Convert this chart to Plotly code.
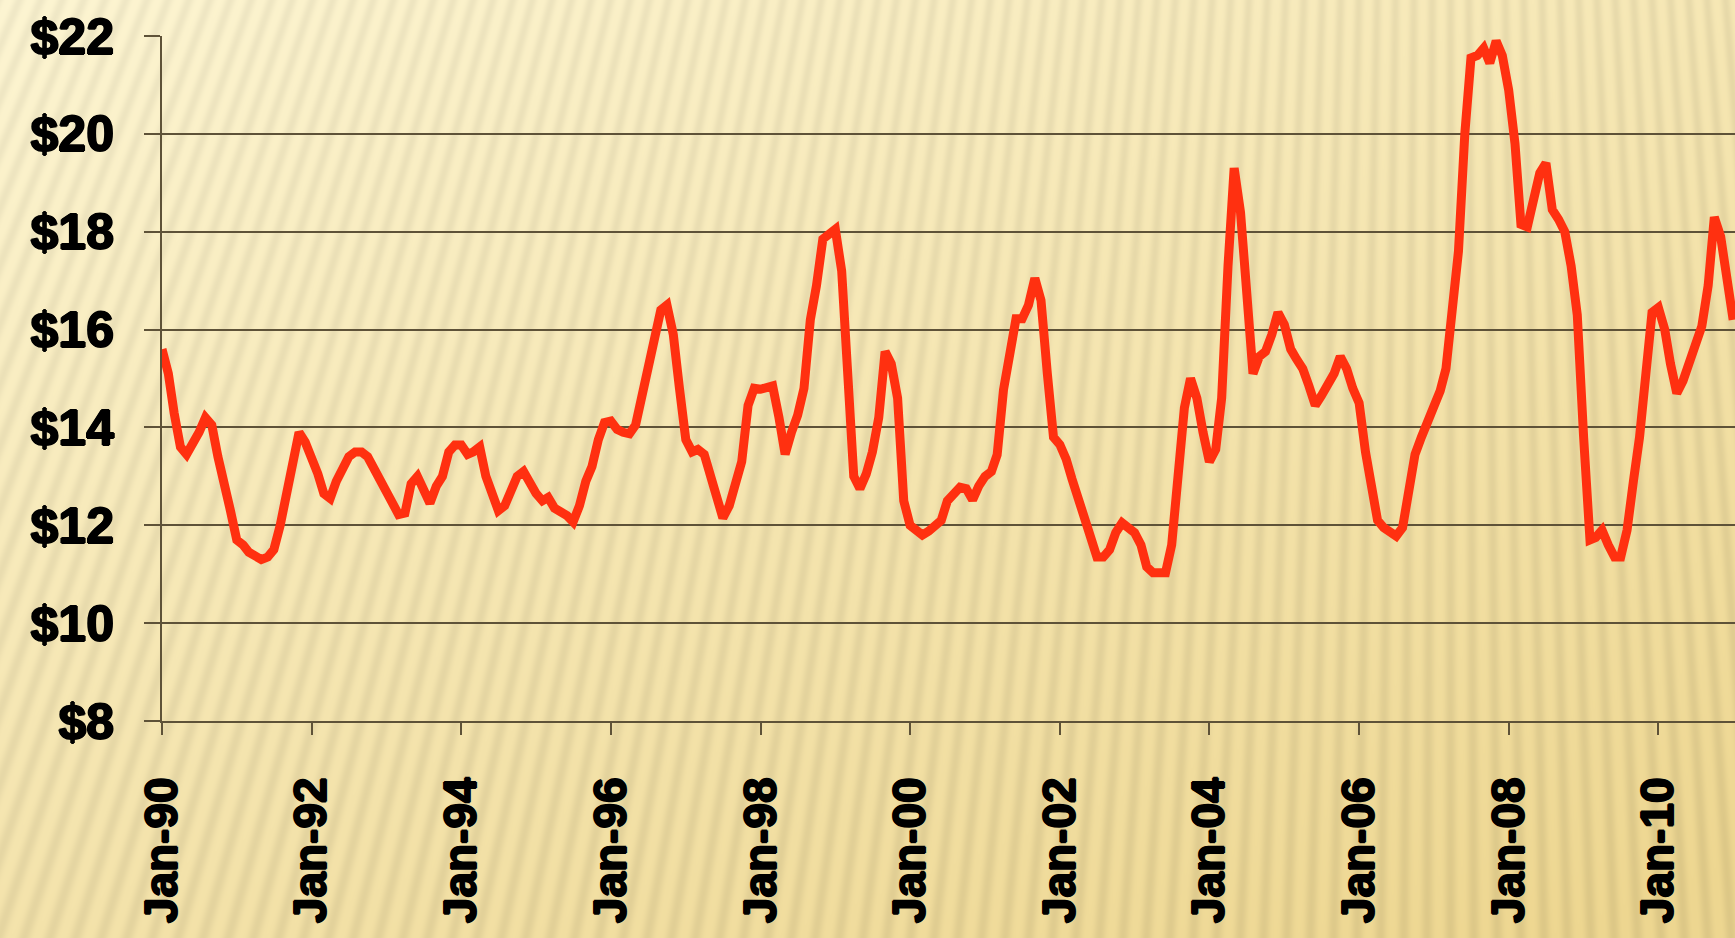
import base64
import struct
import zlib

import numpy as np
import pandas as pd
import plotly.graph_objects as go

# Monthly price from January 1990 (one row per calendar year)
prices = [
    15.6, 15.1, 14.3, 13.6, 13.45, 13.65, 13.9, 14.2, 14.05, 13.4, 12.9, 12.3,     # 1990
    11.7, 11.6, 11.45, 11.35, 11.3, 11.35, 11.5, 12.0, 12.6, 13.2, 13.9, 13.7,     # 1991
    13.4, 13.05, 12.65, 12.55, 12.9, 13.2, 13.4, 13.5, 13.5, 13.4, 13.15, 12.9,    # 1992
    12.65, 12.45, 12.22, 12.25, 12.85, 13.0, 12.75, 12.45, 12.8, 13.0, 13.5, 13.64,  # 1993
    13.64, 13.45, 13.5, 13.6, 13.0, 12.6, 12.3, 12.4, 12.75, 13.0, 13.1, 12.85,    # 1994
    12.65, 12.5, 12.57, 12.35, 12.3, 12.2, 12.07, 12.4, 12.9, 13.2, 13.75, 14.1,   # 1995
    14.13, 13.96, 13.9, 13.87, 14.05, 14.6, 15.3, 15.8, 16.4, 16.5, 15.9, 14.8,    # 1996
    13.75, 13.5, 13.55, 13.45, 13.0, 12.5, 12.15, 12.4, 12.9, 13.3, 14.45, 14.8,   # 1997
    14.78, 14.8, 14.85, 14.2, 13.45, 13.9, 14.25, 14.8, 16.2, 16.9, 17.85, 17.95,  # 1998
    18.05, 17.2, 15.2, 13.0, 12.75, 13.05, 13.5, 14.2, 15.55, 15.3, 14.6, 12.5,    # 1999
    12.0, 11.9, 11.8, 11.88, 11.98, 12.1, 12.5, 12.62, 12.78, 12.75, 12.52, 12.8,  # 2000
    13.0, 13.1, 13.44, 14.77, 15.4, 16.22, 16.22, 16.5, 17.05, 16.6, 15.1, 13.8,   # 2001
    13.65, 13.35, 12.95, 12.58, 12.2, 11.75, 11.35, 11.35, 11.5, 11.85, 12.05, 11.93,  # 2002
    11.85, 11.6, 11.15, 11.03, 11.03, 11.03, 11.6, 13.0, 14.4, 15.0, 14.6, 13.9,   # 2003
    13.3, 13.55, 14.6, 17.3, 19.3, 18.4, 16.8, 15.1, 15.45, 15.55, 15.9, 16.35,    # 2004
    16.1, 15.6, 15.4, 15.2, 14.85, 14.45, 14.65, 14.85, 15.1, 15.45, 15.2, 14.8,   # 2005
    14.5, 13.5, 12.8, 12.1, 11.95, 11.88, 11.78, 11.95, 12.7, 13.45, 13.8, 14.1,   # 2006
    14.4, 14.75, 15.2, 16.3, 17.6, 20.0, 21.55, 21.6, 21.75, 21.45, 21.9, 21.6,    # 2007
    20.9, 19.8, 18.15, 18.1, 18.6, 19.2, 19.4, 18.45, 18.25, 18.0, 17.3, 16.3,     # 2008
    13.8, 11.7, 11.75, 11.9, 11.6, 11.35, 11.35, 11.9, 12.9, 13.8, 15.1, 16.35,    # 2009
    16.45, 16.0, 15.3, 14.7, 14.95, 15.3, 15.62, 16.07, 16.9, 18.3, 17.9, 16.9,    # 2010
    16.2,                                                                          # 2011
]
months = pd.date_range("1990-01-01", periods=len(prices), freq="MS")

y_ticks = [8, 10, 12, 14, 16, 18, 20, 22]
y_tick_labels = ["&#36;8", "&#36;10", "&#36;12", "&#36;14",
                 "&#36;16", "&#36;18", "&#36;20", "&#36;22"]
x_tick_start = "1990-01-01"
x_tick_step = "M24"
x_range = ["1990-01-01", "2011-01-10"]

W, H = 1735, 938
ML, MT, MR, MB = 162, 36, 0, 217

# ---- sunburst-ray background, rendered to an inline PNG ----
def ray_background(w, h):
    yy, xx = np.mgrid[0:h, 0:w].astype(np.float64)
    fx, fy = 1450.0, -3400.0
    ang = np.arctan2(xx - fx, yy - fy)
    period = 21.0 / 3900.0
    s = 0.5 + 0.5 * np.cos(2 * np.pi * ang / period)
    s = s ** 1.5
    t = np.clip(0.45 * xx / w + 0.6 * yy / h, 0, 1)
    light = np.array([253, 245, 210], dtype=np.float64)
    dark = np.array([238, 215, 145], dtype=np.float64)
    base = light[None, None, :] * (1 - t[..., None]) + dark[None, None, :] * t[..., None]
    amp = 0.05 + 0.02 * t
    img = base * (1 - (amp * s)[..., None])
    return np.clip(img, 0, 255).astype(np.uint8)


def to_png(arr):
    h, w, _ = arr.shape
    raw = b"".join(b"\x00" + arr[i].tobytes() for i in range(h))

    def chunk(tag, data):
        c = struct.pack(">I", len(data)) + tag + data
        return c + struct.pack(">I", zlib.crc32(tag + data) & 0xFFFFFFFF)

    return (b"\x89PNG\r\n\x1a\n"
            + chunk(b"IHDR", struct.pack(">IIBBBBB", w, h, 8, 2, 0, 0, 0))
            + chunk(b"IDAT", zlib.compress(raw, 9))
            + chunk(b"IEND", b""))


bg_uri = "data:image/png;base64," + base64.b64encode(to_png(ray_background(W, H))).decode()

pw, ph = W - ML - MR, H - MT - MB

grid = "#5e5238"
heavy = "1px 0 0 #000, -1px 0 0 #000, 0 1px 0 #000, 0 -1px 0 #000"
y_font = dict(family="Liberation Sans, Arial, sans-serif",
              size=50, color="#000000", weight="bold", shadow=heavy)
x_font = dict(family="Liberation Sans, Arial, sans-serif",
              size=46, color="#000000", weight="bold", shadow=heavy)

fig = go.Figure()
fig.add_trace(go.Scatter(
    x=months, y=prices, mode="lines",
    line=dict(color="#FF3010", width=9),
    hoverinfo="skip", showlegend=False,
))

fig.update_layout(
    width=W, height=H,
    margin=dict(l=ML, r=MR, t=MT, b=MB, pad=0, autoexpand=False),
    paper_bgcolor="#F6E6B0",
    plot_bgcolor="rgba(0,0,0,0)",
    images=[dict(
        source=bg_uri, xref="paper", yref="paper",
        x=-ML / pw, y=1 + MT / ph, sizex=W / pw, sizey=H / ph,
        xanchor="left", yanchor="top", sizing="stretch", layer="below",
    )],
    xaxis=dict(
        type="date", automargin=False,
        range=x_range,
        tick0=x_tick_start, dtick=x_tick_step, tickformat="%b-%y",
        tickangle=-90,
        ticks="outside", ticklen=12, tickwidth=2, tickcolor=grid,
        showline=True, linecolor=grid, linewidth=2,
        showgrid=False, zeroline=False,
        tickfont=x_font, ticklabelstandoff=24,
    ),
    yaxis=dict(
        range=[8, 22], automargin=False,
        tickmode="array", tickvals=y_ticks, ticktext=y_tick_labels,
        ticks="outside", ticklen=16, tickwidth=2, tickcolor=grid,
        showline=True, linecolor=grid, linewidth=2,
        showgrid=True, gridcolor=grid, gridwidth=2,
        zeroline=False,
        tickfont=y_font, ticklabelstandoff=20,
    ),
)

fig.write_html("out.html")
